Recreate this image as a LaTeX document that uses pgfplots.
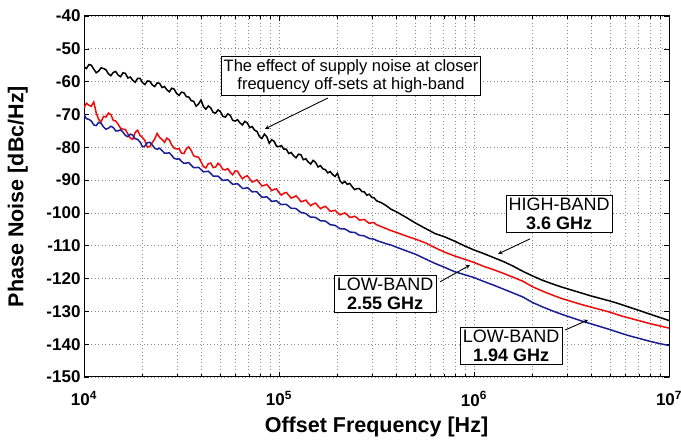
\documentclass[border=0pt]{standalone}
\usepackage{fontspec}
\setmainfont{Liberation Sans}
\usepackage{pgfplots}
\usepackage{pgfplotstable}
\pgfplotsset{compat=1.18}
\definecolor{lbblue}{RGB}{25,30,150}
\definecolor{lbred}{RGB}{240,10,10}

\pgfplotstableread{
f hb lbr lbb
1.0000e4 -55.5 -68.0 -70.0
1.0292e4 -56.0 -66.6 -71.3
1.0593e4 -54.8 -67.2 -71.5
1.0902e4 -55.0 -67.5 -72.0
1.1220e4 -56.2 -66.2 -73.2
1.1548e4 -57.3 -69.5 -73.4
1.1885e4 -56.8 -71.5 -72.4
1.2232e4 -55.8 -72.3 -72.7
1.2589e4 -56.0 -70.6 -73.8
1.2957e4 -56.4 -70.8 -74.5
1.3335e4 -57.6 -69.6 -74.2
1.3724e4 -58.2 -70.0 -73.6
1.4125e4 -57.2 -71.8 -74.0
1.4537e4 -56.9 -72.0 -75.0
1.4962e4 -58.0 -73.0 -75.0
1.5399e4 -58.5 -74.2 -74.7
1.5849e4 -57.3 -74.5 -75.4
1.6312e4 -57.5 -74.6 -76.4
1.6788e4 -58.9 -76.0 -76.8
1.7278e4 -58.6 -77.2 -76.0
1.7783e4 -59.6 -77.6 -76.3
1.8302e4 -60.2 -75.5 -77.4
1.8836e4 -59.0 -74.8 -77.6
1.9386e4 -59.0 -76.4 -78.4
1.9953e4 -60.3 -77.0 -79.9
2.0535e4 -60.9 -78.0 -79.6
2.1135e4 -59.8 -80.0 -78.6
2.1752e4 -59.9 -79.8 -78.5
2.2387e4 -61.0 -78.6 -79.3
2.3041e4 -61.5 -77.5 -80.3
2.3714e4 -60.4 -75.8 -80.6
2.4406e4 -60.5 -77.0 -80.3
2.5119e4 -61.8 -77.6 -81.0
2.5852e4 -61.5 -78.5 -81.8
2.6607e4 -62.5 -77.2 -81.8
2.7384e4 -63.1 -77.8 -81.7
2.8184e4 -62.0 -79.3 -82.5
2.9007e4 -62.3 -80.3 -83.4
2.9854e4 -63.6 -80.5 -83.6
3.0726e4 -64.2 -80.4 -83.5
3.1623e4 -63.2 -81.8 -84.3
3.2546e4 -63.4 -81.9 -84.9
3.3497e4 -64.6 -80.4 -84.8
3.4475e4 -64.7 -79.9 -84.7
3.5481e4 -65.8 -81.0 -85.5
3.6517e4 -66.0 -82.6 -86.2
3.7584e4 -67.5 -82.9 -86.2
3.8681e4 -66.8 -83.0 -86.1
3.9811e4 -65.6 -84.4 -86.8
4.0973e4 -67.6 -85.9 -87.5
4.2170e4 -68.4 -86.3 -87.4
4.3401e4 -67.4 -85.0 -87.3
4.4668e4 -68.0 -84.8 -88.0
4.5973e4 -69.4 -86.2 -88.8
4.7315e4 -69.6 -86.0 -88.8
4.8697e4 -68.6 -84.9 -88.8
5.0119e4 -69.2 -85.6 -89.5
5.1582e4 -70.6 -86.8 -90.1
5.3088e4 -70.8 -86.9 -90.0
5.4638e4 -69.8 -86.5 -89.9
5.6234e4 -70.3 -87.6 -90.6
5.7876e4 -71.8 -88.4 -91.3
5.9566e4 -72.0 -87.2 -91.2
6.1305e4 -71.6 -87.3 -91.1
6.3096e4 -72.6 -88.6 -91.8
6.4938e4 -73.2 -89.6 -92.5
6.6834e4 -72.1 -89.0 -92.5
6.8786e4 -72.6 -88.7 -92.3
7.0795e4 -74.0 -89.6 -92.9
7.2862e4 -73.7 -90.6 -93.6
7.4989e4 -74.8 -90.3 -93.5
7.7179e4 -75.2 -89.9 -93.6
7.9433e4 -76.8 -90.9 -94.5
8.1752e4 -77.3 -91.8 -95.2
8.4140e4 -76.0 -91.6 -95.2
8.6597e4 -76.8 -91.3 -95.1
8.9125e4 -78.8 -92.2 -95.8
9.1729e4 -77.7 -93.2 -96.5
9.4406e4 -78.2 -92.8 -96.4
9.7163e4 -79.7 -92.7 -96.3
1.0000e5 -79.8 -93.8 -97.0
1.0292e5 -79.5 -94.6 -97.5
1.0593e5 -80.6 -94.0 -97.4
1.0902e5 -80.6 -93.8 -97.4
1.1220e5 -81.9 -94.6 -98.0
1.1548e5 -81.6 -95.5 -98.6
1.1885e5 -82.6 -95.2 -98.6
1.2232e5 -83.2 -94.8 -98.7
1.2589e5 -82.1 -95.6 -99.3
1.2957e5 -82.3 -96.6 -99.9
1.3335e5 -83.8 -96.4 -100.0
1.3724e5 -83.5 -96.1 -100.2
1.4125e5 -84.5 -97.0 -100.8
1.4537e5 -85.1 -97.8 -101.3
1.4962e5 -84.0 -97.3 -101.3
1.5399e5 -84.6 -97.0 -101.4
1.5849e5 -86.0 -97.9 -101.9
1.6312e5 -85.6 -98.7 -102.4
1.6788e5 -86.6 -98.3 -102.4
1.7278e5 -86.8 -98.0 -102.5
1.7783e5 -87.8 -98.7 -103.0
1.8302e5 -87.4 -99.5 -103.6
1.8836e5 -88.3 -99.4 -103.7
1.9386e5 -88.9 -99.2 -103.8
1.9953e5 -87.9 -99.9 -104.3
2.0535e5 -90.2 -100.6 -104.8
2.1135e5 -91.0 -100.3 -104.9
2.1752e5 -90.4 -100.0 -104.9
2.2387e5 -91.3 -100.6 -105.3
2.3041e5 -91.0 -101.3 -105.8
2.3714e5 -92.0 -101.3 -105.9
2.4406e5 -92.9 -101.0 -105.9
2.5119e5 -92.6 -101.5 -106.4
2.5852e5 -92.6 -102.2 -106.8
2.6607e5 -93.5 -102.1 -106.9
2.7384e5 -93.6 -102.0 -107.0
2.8184e5 -94.6 -102.6 -107.4
2.9007e5 -94.3 -103.2 -107.8
2.9854e5 -95.2 -103.0 -107.9
3.0726e5 -95.4 -103.0 -108.0
3.1623e5 -96.3 -103.6 -108.4
3.3497e5 -96.9 -104.2 -108.9
3.5481e5 -97.8 -104.8 -109.4
3.7584e5 -98.9 -105.4 -109.8
3.9811e5 -99.6 -105.9 -110.4
4.4668e5 -101.3 -107.0 -111.5
5.0119e5 -103.1 -108.0 -112.6
5.6234e5 -104.7 -109.1 -114.0
6.3096e5 -106.3 -110.6 -115.4
7.0795e5 -107.3 -112.0 -116.6
7.9433e5 -108.6 -113.1 -117.9
8.9125e5 -110.0 -114.1 -118.8
1.0000e6 -111.3 -115.1 -119.7
1.1220e6 -112.4 -116.3 -120.9
1.2589e6 -113.6 -117.3 -122.0
1.4125e6 -114.8 -118.4 -123.2
1.5849e6 -116.2 -119.6 -124.4
1.7783e6 -117.8 -120.8 -125.6
1.9953e6 -119.2 -122.5 -127.3
2.2387e6 -120.5 -123.8 -128.6
2.5119e6 -121.6 -125.0 -129.8
2.8184e6 -122.6 -126.1 -130.9
3.1623e6 -123.5 -127.0 -131.9
3.5481e6 -124.4 -127.9 -132.9
3.9811e6 -125.3 -128.7 -133.8
4.4668e6 -126.1 -129.5 -134.7
5.0119e6 -126.9 -130.3 -135.6
5.6234e6 -127.8 -131.3 -136.6
6.3096e6 -128.8 -132.1 -137.5
7.0795e6 -129.8 -132.9 -138.3
7.9433e6 -130.8 -133.7 -139.1
8.9125e6 -131.8 -134.4 -139.8
1.0000e7 -132.8 -135.1 -140.4
}\pndata

\begin{document}
\begin{tikzpicture}
\begin{axis}[
  name=ax,
  scale only axis,
  width=585pt, height=361pt,
  xmode=log,
  xmin=1e4, xmax=1e7,
  ymin=-150, ymax=-40,
  ytick={-150,-140,...,-40},
  xtick={1e4,1e5,1e6,1e7},
  xticklabels={10\textsuperscript{4},10\textsuperscript{5},10\textsuperscript{6},10\textsuperscript{7}},
  /pgf/number format/assume math mode=true,
  ticklabel style={font=\fontsize{17}{17}\selectfont\bfseries},
  xticklabel style={yshift=-11pt},
  grid=both,
  major grid style={gray!90, line width=0.7pt, dash pattern=on 0.9pt off 2.6pt},
  minor grid style={gray!90, line width=0.7pt, dash pattern=on 0.9pt off 2.6pt},
  axis line style={line width=1pt, black},
  tick style={black, line width=0.6pt},
  major tick length=5pt, minor tick length=3pt,
  xlabel={Offset Frequency [Hz]},
  ylabel={Phase Noise [dBc/Hz]},
  label style={font=\fontsize{21.5}{22}\selectfont\bfseries},
  xlabel style={at={(axis description cs:0.5,-0.139)}, anchor=center},
  ylabel style={at={(axis description cs:-0.113,0.5)}, anchor=center},
  clip=true,
]
\addplot[black, line width=1.5pt] table[x=f, y=hb] {\pndata};
\addplot[lbred, line width=1.5pt] table[x=f, y=lbr] {\pndata};
\addplot[lbblue, line width=1.5pt] table[x=f, y=lbb] {\pndata};

\node[draw=black, line width=0.8pt, fill=white, align=center, inner sep=2.5pt,
      font=\fontsize{16.5}{18.5}\selectfont]
  at (axis cs:2.34e5,-58.3) {The effect of supply noise at closer\\frequency off-sets at high-band};
\draw[-stealth, line width=0.9pt] (axis cs:1.78e5,-65.0) -- (axis cs:8.47e4,-74.4);

\node[draw=black, line width=0.8pt, fill=white, align=center, inner sep=2.5pt,
      font=\fontsize{18}{19.5}\selectfont]
  at (axis cs:2.73e6,-100.3) {HIGH-BAND\\\textbf{3.6 GHz}};
\draw[-stealth, line width=0.9pt] (axis cs:1.94e6,-107.9) -- (axis cs:1.33e6,-112.5);

\node[draw=black, line width=0.8pt, fill=white, align=center, inner sep=2.5pt,
      font=\fontsize{18}{19.5}\selectfont]
  at (axis cs:3.50e5,-124.7) {LOW-BAND\\\textbf{2.55 GHz}};
\draw[-stealth, line width=0.9pt] (axis cs:6.70e5,-121.0) -- (axis cs:9.53e5,-115.9);

\node[draw=black, line width=0.8pt, fill=white, align=center, inner sep=2.5pt,
      font=\fontsize{18}{19.5}\selectfont]
  at (axis cs:1.55e6,-140.5) {LOW-BAND\\\textbf{1.94 GHz}};
\draw[-stealth, line width=0.9pt] (axis cs:2.93e6,-135.7) -- (axis cs:3.85e6,-132.6);
\end{axis}
\pgfresetboundingbox
\path ([xshift=-84pt,yshift=-66pt]ax.south west) rectangle ([xshift=12pt,yshift=16pt]ax.north east);
\end{tikzpicture}
\end{document}
